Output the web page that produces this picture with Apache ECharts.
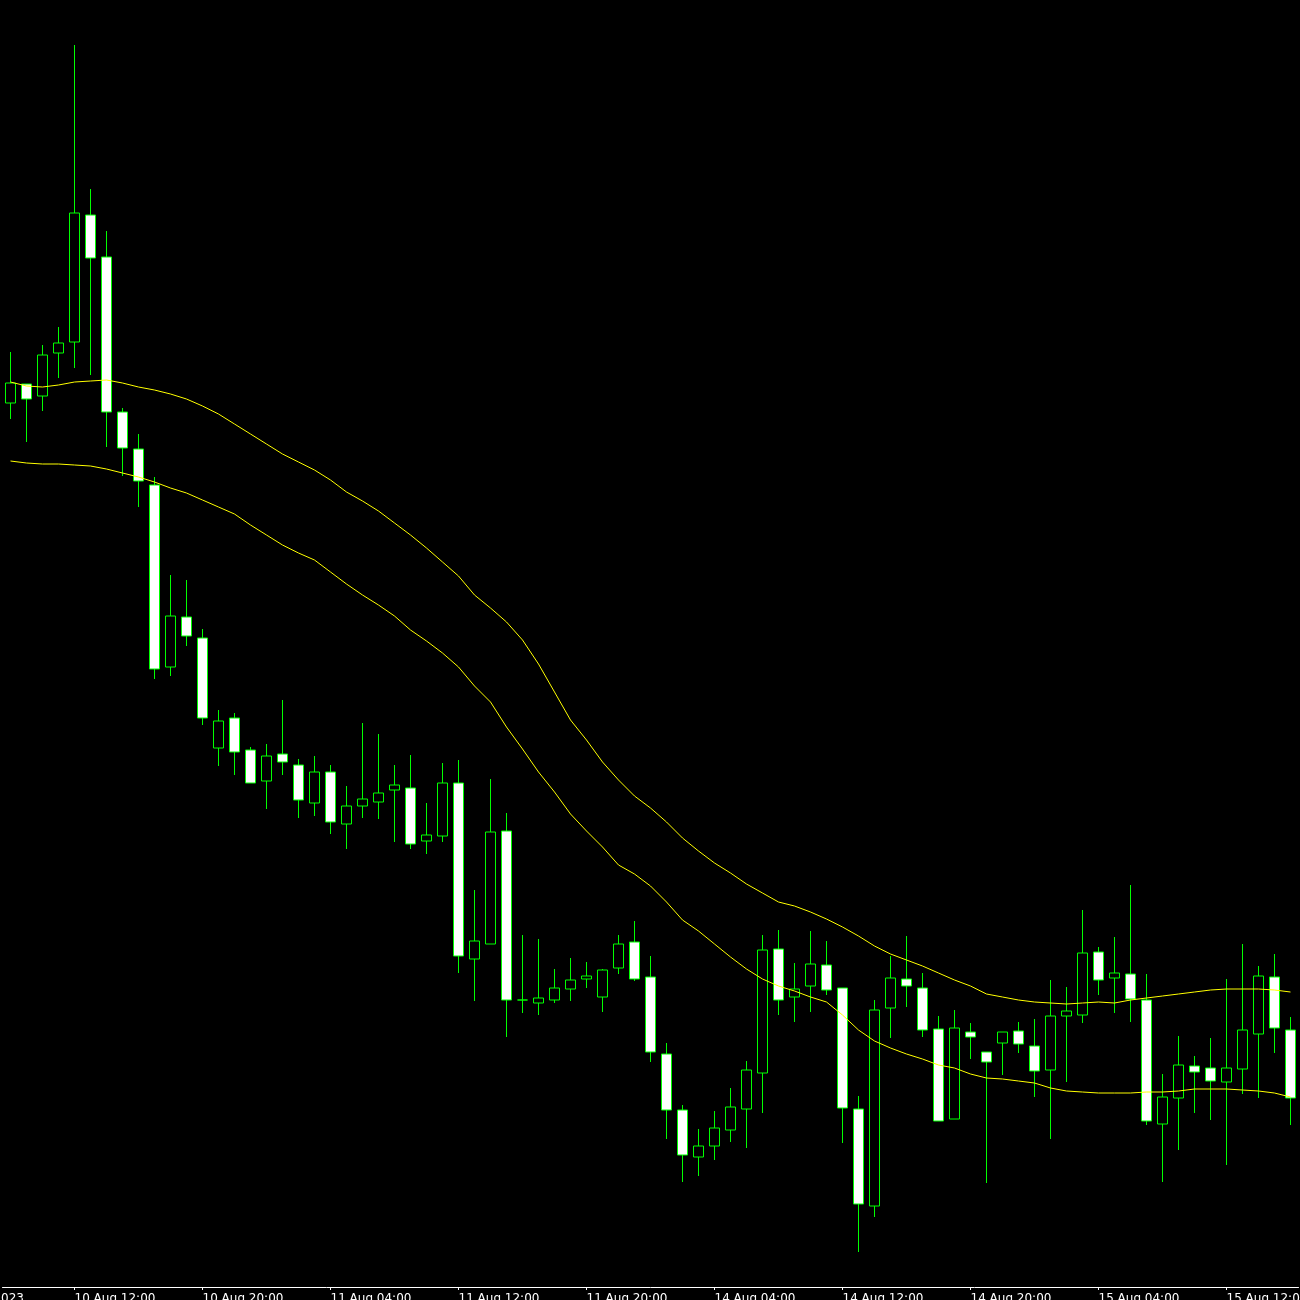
<!DOCTYPE html>
<html>
<head>
<meta charset="utf-8">
<script src="https://cdn.jsdelivr.net/npm/echarts@6/dist/echarts.min.js"></script>
<style>
html,body{margin:0;padding:0;background:#000;}
#chart{width:1300px;height:1300px;}
</style>
</head>
<body>
<div id="chart"></div>
<script>
// Hourly sessions shown on the chart (day label, first hour, last hour)
const sessions = [['10 Aug', 8, 23], ['11 Aug', 0, 23], ['14 Aug', 0, 23], ['15 Aug', 0, 16]];
const firstLabel = '10 Aug 2023';

const openP = [
1.09884,1.09903,1.09891,1.09934,1.09945,1.10072,1.10030,1.09875,1.09838,1.09802,
1.09620,1.09670,1.09649,1.09539,1.09569,1.09537,1.09506,1.09533,1.09522,1.09484,
1.09515,1.09463,1.09481,1.09485,1.09497,1.09499,1.09446,1.09451,1.09504,1.09328,
1.09343,1.09456,1.09287,1.09284,1.09287,1.09298,1.09308,1.09290,1.09319,1.09345,
1.09310,1.09233,1.09177,1.09130,1.09141,1.09157,1.09178,1.09214,1.09338,1.09290,
1.09301,1.09322,1.09299,1.09178,1.09081,1.09279,1.09308,1.09299,1.09258,1.09168,
1.09255,1.09235,1.09244,1.09256,1.09241,1.09217,1.09271,1.09272,1.09335,1.09309,
1.09313,1.09287,1.09163,1.09189,1.09221,1.09219,1.09205,1.09218,1.09253,1.09310,
1.09257];
const closeP = [
1.09904,1.09888,1.09932,1.09944,1.10074,1.10029,1.09875,1.09839,1.09806,1.09618,
1.09671,1.09651,1.09569,1.09566,1.09535,1.09504,1.09531,1.09525,1.09487,1.09515,
1.09465,1.09481,1.09488,1.09494,1.09502,1.09443,1.09452,1.09504,1.09331,1.09346,
1.09455,1.09287,1.09287,1.09289,1.09299,1.09307,1.09311,1.09317,1.09343,1.09308,
1.09235,1.09177,1.09132,1.09141,1.09159,1.09180,1.09217,1.09337,1.09287,1.09298,
1.09323,1.09297,1.09179,1.09083,1.09277,1.09309,1.09301,1.09257,1.09166,1.09259,
1.09250,1.09225,1.09255,1.09243,1.09216,1.09271,1.09276,1.09334,1.09307,1.09314,
1.09288,1.09166,1.09190,1.09222,1.09215,1.09206,1.09219,1.09257,1.09311,1.09259,
1.09189];
const lowP = [
1.09868,1.09845,1.09876,1.09909,1.09919,1.09912,1.09840,1.09811,1.09780,1.09608,
1.09611,1.09641,1.09562,1.09521,1.09512,1.09504,1.09478,1.09512,1.09469,1.09471,
1.09453,1.09438,1.09469,1.09468,1.09445,1.09438,1.09433,1.09445,1.09314,1.09286,
1.09343,1.09250,1.09274,1.09272,1.09284,1.09286,1.09299,1.09275,1.09313,1.09306,
1.09225,1.09148,1.09105,1.09111,1.09127,1.09145,1.09139,1.09174,1.09272,1.09265,
1.09275,1.09292,1.09144,1.09035,1.09070,1.09249,1.09280,1.09250,1.09166,1.09168,
1.09228,1.09104,1.09212,1.09234,1.09190,1.09148,1.09205,1.09264,1.09292,1.09274,
1.09265,1.09162,1.09105,1.09137,1.09174,1.09167,1.09122,1.09193,1.09189,1.09234,
1.09162];
const highP = [
1.09935,1.09903,1.09942,1.09960,1.10242,1.10098,1.10056,1.09879,1.09853,1.09810,
1.09712,1.09707,1.09658,1.09577,1.09574,1.09540,1.09543,1.09587,1.09528,1.09531,
1.09522,1.09501,1.09564,1.09553,1.09522,1.09532,1.09484,1.09524,1.09527,1.09397,
1.09508,1.09474,1.09352,1.09348,1.09318,1.09329,1.09325,1.09318,1.09352,1.09366,
1.09331,1.09244,1.09182,1.09158,1.09176,1.09199,1.09226,1.09352,1.09357,1.09324,
1.09356,1.09346,1.09299,1.09191,1.09287,1.09331,1.09351,1.09314,1.09271,1.09277,
1.09264,1.09235,1.09255,1.09265,1.09268,1.09307,1.09300,1.09377,1.09340,1.09350,
1.09402,1.09313,1.09213,1.09251,1.09231,1.09249,1.09308,1.09343,1.09321,1.09333,
1.09270];
const upperMA = [
1.09905,1.09901,1.09900,1.09902,1.09905,1.09906,1.09907,1.09904,1.09900,1.09897,
1.09893,1.09888,1.09881,1.09873,1.09863,1.09853,1.09843,1.09833,1.09825,1.09817,
1.09807,1.09795,1.09786,1.09776,1.09764,1.09752,1.09739,1.09725,1.09711,1.09692,
1.09679,1.09665,1.09647,1.09623,1.09595,1.09567,1.09547,1.09525,1.09507,1.09491,
1.09479,1.09465,1.09449,1.09436,1.09424,1.09414,1.09403,1.09394,1.09385,1.09381,
1.09375,1.09368,1.09360,1.09351,1.09341,1.09333,1.09327,1.09321,1.09314,1.09307,
1.09301,1.09293,1.09290,1.09287,1.09285,1.09284,1.09283,1.09284,1.09285,1.09284,
1.09287,1.09289,1.09291,1.09293,1.09295,1.09297,1.09298,1.09298,1.09298,1.09297,
1.09295];
const lowerMA = [
1.09826,1.09824,1.09823,1.09823,1.09822,1.09821,1.09818,1.09814,1.09810,1.09805,
1.09799,1.09794,1.09787,1.09780,1.09773,1.09762,1.09752,1.09742,1.09734,1.09727,
1.09715,1.09703,1.09692,1.09682,1.09671,1.09657,1.09646,1.09634,1.09620,1.09601,
1.09585,1.09560,1.09538,1.09515,1.09495,1.09473,1.09456,1.09440,1.09422,1.09413,
1.09401,1.09385,1.09367,1.09356,1.09343,1.09330,1.09318,1.09308,1.09301,1.09296,
1.09290,1.09285,1.09272,1.09257,1.09246,1.09239,1.09233,1.09228,1.09222,1.09219,
1.09213,1.09209,1.09208,1.09206,1.09204,1.09199,1.09196,1.09195,1.09194,1.09194,
1.09194,1.09195,1.09195,1.09196,1.09198,1.09198,1.09198,1.09197,1.09196,1.09194,
1.09190];

const categories = [];
sessions.forEach(([day, h0, h1]) => {
  for (let h = h0; h <= h1; h++) categories.push(day + ' ' + String(h).padStart(2, '0') + ':00');
});
const candles = openP.map((o, i) => [o, closeP[i], lowP[i], highP[i]]);

const chart = echarts.init(document.getElementById('chart'));
const FONT = 'DejaVu Sans';
const showIdx = (i) => i % 8 === 4;
chart.setOption({
  backgroundColor: '#000000',
  animation: false,
  grid: { left: 2.5, right: 1.5, top: 0, bottom: 13, containLabel: false, outerBoundsMode: 'none' },
  xAxis: {
    type: 'category',
    data: categories,
    boundaryGap: true,
    axisLine: { show: true, lineStyle: { color: '#ffffff', width: 1 } },
    axisTick: { show: true, interval: (i) => showIdx(i), alignWithLabel: true, length: 3, lineStyle: { color: '#ffffff' } },
    axisLabel: {
      interval: (i) => showIdx(i), color: '#ffffff', fontFamily: FONT, fontSize: 12,
      align: 'left', margin: 6, hideOverlap: false, lineHeight: 12
    },
    splitLine: { show: false }
  },
  yAxis: {
    type: 'value', min: 1.09, max: 1.10287, show: false, splitLine: { show: false }
  },
  graphic: [{
    type: 'text', x: 24, y: 1293, silent: true,
    style: { text: firstLabel, fill: '#ffffff', font: '12px "DejaVu Sans"', textAlign: 'right', textVerticalAlign: 'top' }
  }],
  series: [
    {
      type: 'candlestick',
      data: candles,
      barWidth: 10,
      itemStyle: {
        color: '#000000', color0: '#ffffff',
        borderColor: '#00ff00', borderColor0: '#00ff00', borderColorDoji: '#00ff00',
        borderWidth: 1
      },
      z: 2
    },
    {
      type: 'line', data: upperMA, symbol: 'none', smooth: false,
      lineStyle: { color: '#ffff00', width: 1 }, z: 3
    },
    {
      type: 'line', data: lowerMA, symbol: 'none', smooth: false,
      lineStyle: { color: '#ffff00', width: 1 }, z: 3
    }
  ]
});
</script>
</body>
</html>
